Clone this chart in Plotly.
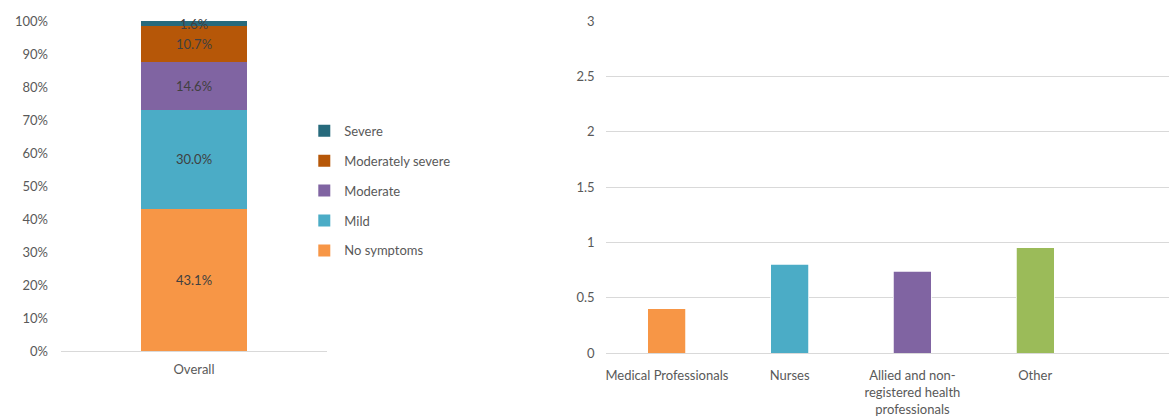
import plotly.graph_objects as go

# Left panel: overall symptom severity distribution (stacked 100%)
severity_levels = ["No symptoms", "Mild", "Moderate", "Moderately severe", "Severe"]
severity_pct = [43.1, 30.0, 14.6, 10.7, 1.6]
severity_colors = ["#F79646", "#4BACC6", "#8064A2", "#B65708", "#276A7C"]
overall_label = ["Overall"]

# Right panel: score by professional group
groups = ["Medical Professionals", "Nurses",
          "Allied and non-<br>registered health<br>professionals", "Other"]
group_values = [0.40, 0.80, 0.74, 0.95]
group_colors = ["#F79646", "#4BACC6", "#8064A2", "#9BBB59"]

FONT = "Lato, 'Open Sans', sans-serif"
TXT = "#595959"
GRID = "#D9D9D9"

fig = go.Figure()

n_levels = len(severity_levels)
for i, (name, val, col) in enumerate(zip(severity_levels, severity_pct, severity_colors)):
    fig.add_trace(go.Bar(
        x=overall_label, y=[val], name=name,
        marker=dict(color=col, line=dict(width=0)),
        width=0.4,
        text=[val], texttemplate="%{y:.1f}%", textposition="inside",
        insidetextanchor="middle", constraintext="none", cliponaxis=False,
        textfont=dict(color="#404040", size=13, family=FONT),
        legendgroup=name, legendrank=n_levels - i,
        xaxis="x", yaxis="y",
    ))

fig.add_trace(go.Bar(
    x=groups, y=group_values,
    marker=dict(color=group_colors, line=dict(color="white", width=0.75)),
    width=0.31, showlegend=False, xaxis="x2", yaxis="y2",
))

fig.update_layout(
    width=1169, height=419,
    margin=dict(l=0, r=0, t=0, b=0, autoexpand=False),
    paper_bgcolor="white", plot_bgcolor="white",
    barmode="stack",
    font=dict(family=FONT, size=13, color=TXT),
    uniformtext=dict(minsize=13, mode="show"),
    showlegend=True,
    legend=dict(
        x=0.2603, y=0.7235, xanchor="left", yanchor="top",
        traceorder="grouped", tracegroupgap=10,
        font=dict(size=13, color=TXT, family=FONT),
        itemwidth=30, bgcolor="rgba(0,0,0,0)",
    ),
    xaxis=dict(
        domain=[0.0522, 0.2797], showgrid=False, showline=True,
        linecolor=GRID, linewidth=1, ticks="", tickfont=dict(size=13, color=TXT),
        ticklabelstandoff=6, automargin=False,
    ),
    yaxis=dict(
        domain=[0.1623, 0.9499], range=[0, 100], dtick=10,
        ticksuffix="%", showgrid=False, zeroline=False, showline=False,
        ticklabelstandoff=12, tickfont=dict(size=13, color=TXT), automargin=False,
    ),
    xaxis2=dict(
        domain=[0.518, 1.0], range=[-0.5, 4.09], showgrid=False,
        showline=False, ticks="", tickfont=dict(size=13, color=TXT),
        ticklabelstandoff=13, automargin=False, anchor="y2",
    ),
    yaxis2=dict(
        domain=[0.1575, 0.9499], range=[0, 3], dtick=0.5,
        showgrid=True, gridcolor=GRID, gridwidth=1,
        zeroline=True, zerolinecolor=GRID, zerolinewidth=1,
        ticklabelstandoff=10, tickfont=dict(size=13, color=TXT),
        automargin=False, anchor="x2",
    ),
)

fig.write_html("out.html")
